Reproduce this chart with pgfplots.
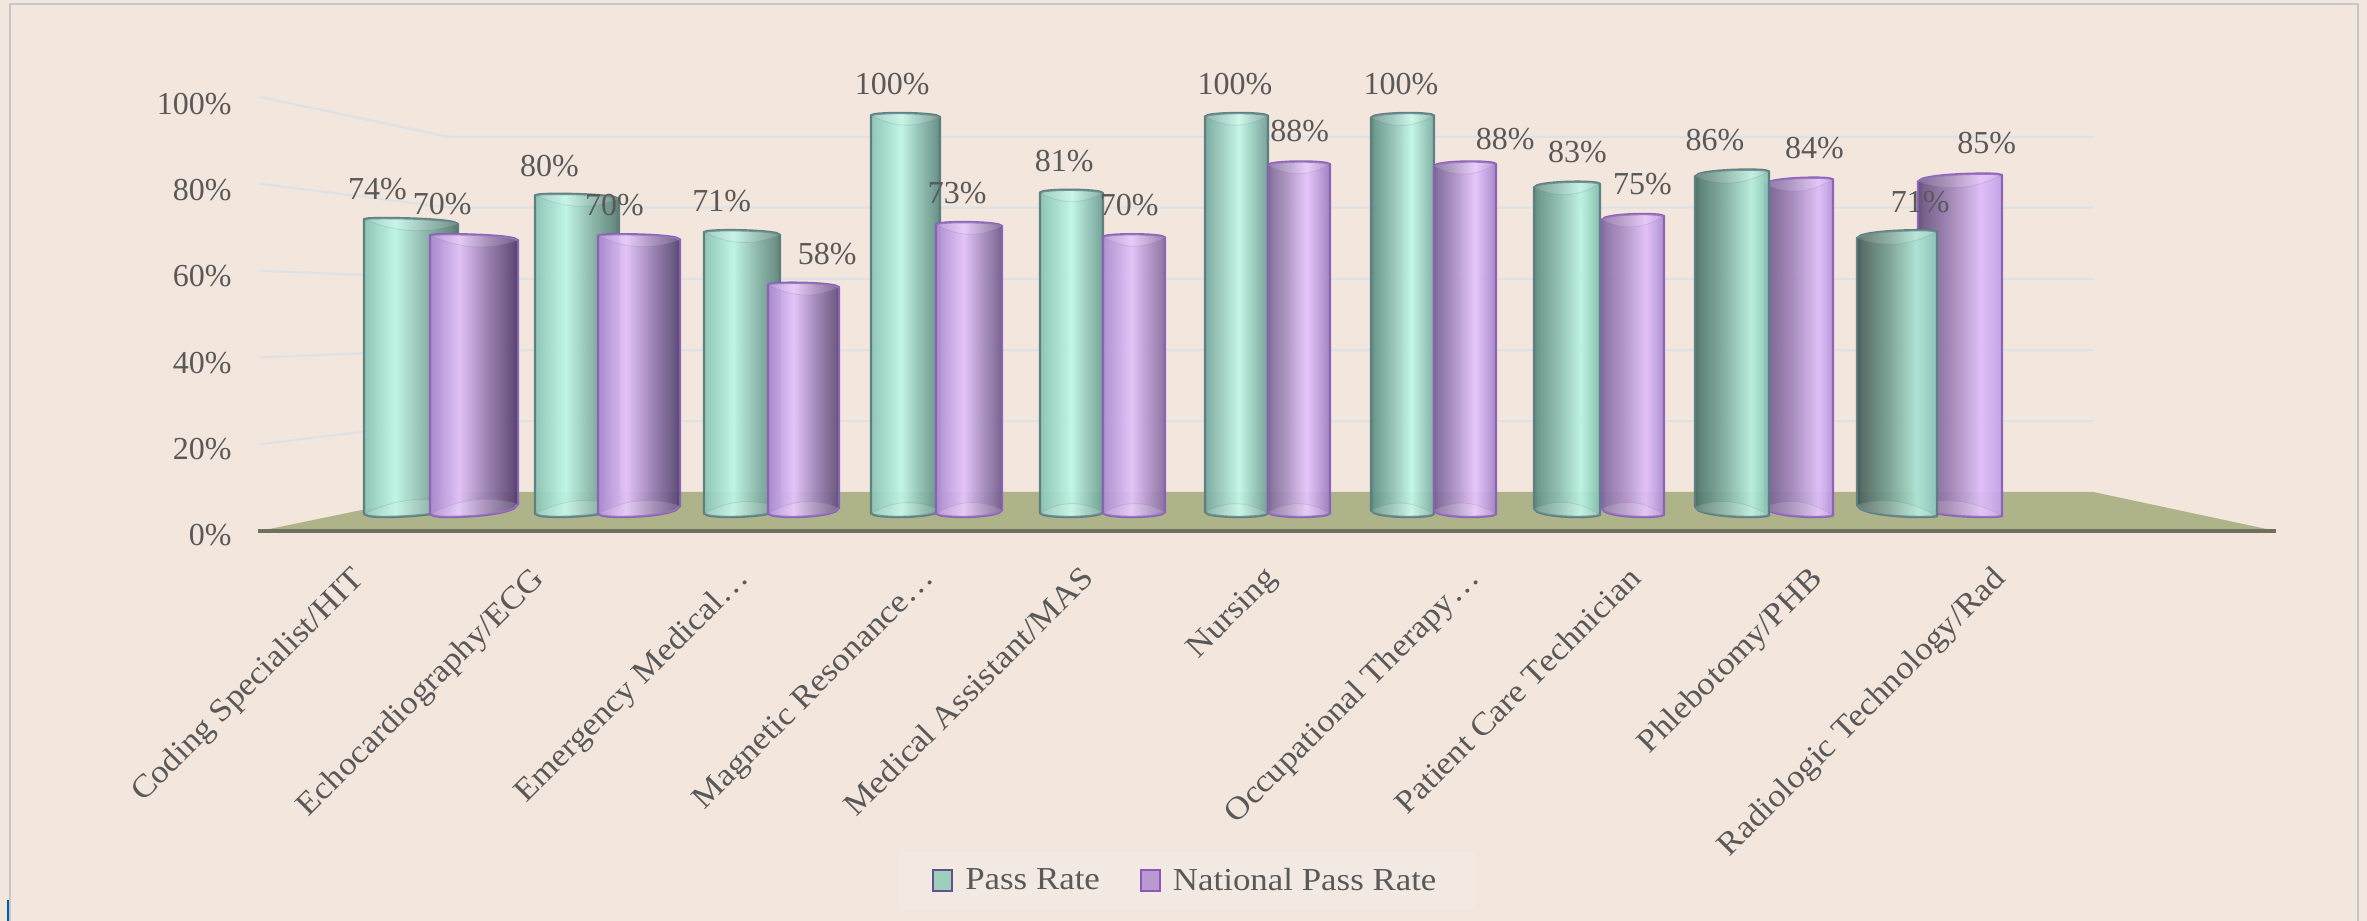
\documentclass[border=0pt]{standalone}
\usepackage{pgfplots}
\pgfplotsset{compat=1.18}
\usepackage{fontspec}
\setmainfont{Liberation Serif}
\newfontfamily\widefont[FakeStretch=1.09]{Liberation Serif}
\definecolor{bgc}{HTML}{F2E6DD}
\definecolor{txt}{HTML}{595959}
\definecolor{gridc}{HTML}{DCE2E6}
\definecolor{floorc}{HTML}{AEB38A}
\definecolor{linec}{HTML}{70705F}
\definecolor{tstroke}{HTML}{5A7D80}
\definecolor{pstroke}{HTML}{8A60B8}
\definecolor{legt}{HTML}{9CD0BD}
\definecolor{legtd}{HTML}{674E8C}
\definecolor{legp}{HTML}{B89AD0}
\definecolor{legpd}{HTML}{9055B8}
\definecolor{legbg}{HTML}{F2E9E3}
\newcommand\sh[5]{%
 \definecolor{#1-L}{HTML}{#2}\definecolor{#1-H}{HTML}{#3}\definecolor{#1-R}{HTML}{#4}%
 \pgfmathsetmacro\ma{(#5+25)/2}\pgfmathsetmacro\mb{(#5+75)/2}%
 \edef\tmpsh{\noexpand\pgfdeclarehorizontalshading{#1}{100bp}{color(0bp)=(#1-L); color(25bp)=(#1-L); color(28bp)=(#1-L!85!#1-H); color(\ma bp)=(#1-L!50!#1-H); color(#5bp)=(#1-H); color(\mb bp)=(#1-R!50!#1-H); color(72bp)=(#1-R!85!#1-H); color(75bp)=(#1-R); color(100bp)=(#1-R)}}%
 \tmpsh}
\sh{ta}{8CC4B6}{BEF6E6}{4F6F66}{41.5}
\sh{tb}{8CC4B6}{BEF6E6}{527469}{43}
\sh{tc}{8CC4B6}{BDF5E5}{587C72}{44}
\sh{td}{8CC4B6}{BFF6E6}{5A857A}{47}
\sh{te}{8AC2B3}{C0F7E7}{6C9B90}{50}
\sh{tf}{77A69C}{C3F8E8}{6F9C92}{52}
\sh{tg}{5C887F}{C2F8E8}{7DAEA2}{57}
\sh{th}{5A857B}{BBF3E2}{86BFB0}{60}
\sh{ti}{476A61}{B6EEDC}{88C2B3}{63}
\sh{tj}{40544E}{AFE7D5}{90CABC}{63}
\sh{pa}{AD8AD0}{E3C3FA}{46335E}{41}
\sh{pb}{AD8AD0}{E3C3FA}{4B3A66}{42}
\sh{pc}{AE8CD2}{E3C3FA}{594670}{43}
\sh{pd}{AD8CCF}{E3C3FA}{6B5884}{46}
\sh{pe}{AB8ECD}{E3C3FA}{846A9A}{48}
\sh{pf}{79658F}{E5C6FC}{9E7DBE}{56}
\sh{pg}{735E8E}{E5C6FC}{A685C7}{58}
\sh{ph}{7E6798}{E1C0F8}{AF8ED0}{60}
\sh{pi}{675280}{DEBDF7}{BB99DC}{64}
\sh{pj}{5E4972}{DEBDF7}{C4A2E6}{62}
\newcommand\lblfont{\fontsize{16}{19}\selectfont}
\newcommand\widelbl{\fontsize{16}{19}\widefont}
% one cylinder: x left, x right (canvas px), value (%), shading, stroke, group index
\newcommand\cyl[6]{%
 \pgfmathsetmacro\s{(#6-4.5)/4.5}%
 \pgfmathsetmacro\tz{0.5+0.3*\s}%
 \pgfmathsetmacro\tL{\s>0?3+5*\s:3+2*\s}%
 \pgfmathsetmacro\tR{\s<0?3-3*\s:3-1.5*\s}%
 \pgfmathsetmacro\bL{\s>0?4+8*\s:4+\s}%
 \pgfmathsetmacro\bR{\s<0?4-9*\s:4-3*\s}%
 \gdef\ptsB{}\gdef\ptsT{}\gdef\ptsC{}\gdef\ptsD{}%
 \pgfplotsforeachungrouped \i in {0,...,20}{%
  \pgfmathsetmacro\t{\i/20}%
  \pgfmathsetmacro\xx{#1+(#2-#1)*\t}%
  \pgfmathsetmacro\u{abs(\t-\tz)/(\t<\tz?\tz:1-\tz)}%
  \pgfmathsetmacro\w{1-sqrt(max(0,1-\u*\u))}%
  \pgfmathsetmacro\ot{(\t<\tz?\tL:\tR)*\w}%
  \pgfmathsetmacro\ob{(\t<\tz?\bL:\bR)*\w}%
  \pgfmathsetmacro\yb{\ob/4.04}%
  \pgfmathsetmacro\yt{#3-\ot/4.04}%
  \pgfmathsetmacro\yc{#3-((1-\t)*\tL+\t*\tR+4*9*\t*(1-\t))/4.04}%
  \pgfmathsetmacro\yd{((1-\t)*\bL+\t*\bR+4*9*\t*(1-\t))/4.04}%
  \xdef\ptsB{\ptsB (\xx,\yb)}%
  \xdef\ptsT{(\xx,\yt) \ptsT}%
  \xdef\ptsC{\ptsC (\xx,\yc)}%
  \xdef\ptsD{(\xx,\yd) \ptsD}%
 }%
 \edef\tmp{\noexpand\addplot[forget plot, mark=none, line width=1.2pt, shade, shading=#4, fill opacity=0.95, draw=#5, draw opacity=0.95, line join=round] coordinates {\ptsB\ptsT} -- cycle;%
  \noexpand\addplot[forget plot, mark=none, line width=0.4pt, fill=white, fill opacity=0.14, draw=#5, draw opacity=0.2] coordinates {\ptsC\ptsT} -- cycle;%
  \noexpand\addplot[forget plot, mark=none, line width=0.4pt, fill=white, fill opacity=0.14, draw=#5, draw opacity=0.2] coordinates {\ptsB\ptsD} -- cycle;}%
 \tmp
}
\newcommand\lbl[3]{\node[text=txt,font=\lblfont,inner sep=0pt] at (axis cs:{#1*1.5096},{(517-#2*1.5096)/4.04}) {#3};}
\begin{document}
\begin{tikzpicture}[x=1pt,y=1pt]
\path[use as bounding box] (0,1) rectangle (1183.5,461.5);
\fill[bgc] (0,0) rectangle (1183.5,461.5);
\draw[color=black!22,line width=1.4pt] (5,0) -- (5,459.5) -- (1179,459.5) -- (1179,0);
\draw[color=blue!50!cyan!70!black,line width=1pt] (4,0) -- (4,11.5);
% front-plane axis: floor, walls, y ticks, category labels
\begin{axis}[at={(130pt,196pt)},anchor=south west,scale only axis,width=1008pt,height=217pt,
 xmin=260,xmax=2276,ymin=0,ymax=100,clip=false,
 axis line style={draw=none},major tick length=0pt,
 ytick={0,19.86,39.72,59.58,79.44,99.3},yticklabels={0\%,20\%,40\%,60\%,80\%,100\%},
 yticklabel style={font=\lblfont,text=txt,anchor=east,inner sep=0pt,xshift=-14pt,yshift=-2pt},
 xtick={350,530,734,920,1079,1263,1465,1627,1808,1991},
 xticklabels={Coding Specialist/HIT,Echocardiography/ECG,Emergency Medical…,Magnetic Resonance…,Medical Assistant/MAS,Nursing,Occupational Therapy…,Patient Care Technician,Phlebotomy/PHB,Radiologic Technology/Rad},
 xticklabel style={font=\widelbl,text=txt,rotate=45,anchor=north east,inner sep=0pt},
 xticklabel shift=16.5pt,
]
\addplot[fill=floorc,draw=none,forget plot] coordinates {(260,0) (449,9.0) (2093,9.0) (2276,0)} -- cycle;
\addplot[gridc,line width=1pt,forget plot] coordinates {(260,100) (449,90.8) (2093,90.8)};
\addplot[gridc,line width=1pt,forget plot] coordinates {(260,80) (449,74.5) (2093,74.5)};
\addplot[gridc,line width=1pt,forget plot] coordinates {(260,60) (449,58.1) (2093,58.1)};
\addplot[gridc,line width=1pt,forget plot] coordinates {(260,40) (449,41.7) (2093,41.7)};
\addplot[gridc,line width=1pt,forget plot] coordinates {(260,20) (449,25.3) (2093,25.3)};
\addplot[color=linec,line width=2pt,forget plot] coordinates {(258,0) (2276,0)};
\end{axis}
% bar-plane axis: the cylinders
\begin{axis}[at={(130pt,203pt)},anchor=south west,scale only axis,width=1008pt,height=202pt,
 xmin=260,xmax=2276,ymin=0,ymax=100,clip=false,hide axis,
 legend columns=2,
 legend style={at={(0.4595,-0.90)},anchor=center,draw=none,fill=legbg,
  font=\widelbl,text=txt,inner xsep=17pt,inner ysep=6pt,
  /tikz/every odd column/.append style={column sep=4pt},
  /tikz/every even column/.append style={column sep=18pt}},
 legend image code/.code={\draw[#1,line width=1pt] (0pt,-5pt) rectangle (9.5pt,5.5pt);},
]
\addlegendimage{fill=legt,draw=legtd}
\addlegendentry{Pass Rate}
\addlegendimage{fill=legp,draw=legpd}
\addlegendentry{National Pass Rate}
% x left, x right, value, shading, stroke, group
\cyl{364}{458}{74}{ta}{tstroke}{0}
\cyl{430}{518}{70}{pa}{pstroke}{0}
\cyl{535}{619}{80}{tb}{tstroke}{1}
\cyl{598}{680}{70}{pb}{pstroke}{1}
\cyl{704}{780}{71}{tc}{tstroke}{2}
\cyl{768}{839}{58}{pc}{pstroke}{2}
\cyl{871}{940}{100}{td}{tstroke}{3}
\cyl{936}{1002}{73}{pd}{pstroke}{3}
\cyl{1040}{1103}{81}{te}{tstroke}{4}
\cyl{1103}{1165}{70}{pe}{pstroke}{4}
\cyl{1205}{1268}{100}{tf}{tstroke}{5}
\cyl{1268}{1330}{88}{pf}{pstroke}{5}
\cyl{1371}{1434}{100}{tg}{tstroke}{6}
\cyl{1434}{1496}{88}{pg}{pstroke}{6}
\cyl{1602}{1664}{75}{ph}{pstroke}{7}
\cyl{1534}{1600}{83}{th}{tstroke}{7}
\cyl{1765}{1833}{84}{pi}{pstroke}{8}
\cyl{1695}{1769}{86}{ti}{tstroke}{8}
\cyl{1918}{2002}{85}{pj}{pstroke}{9}
\cyl{1857}{1937}{71}{tj}{tstroke}{9}
\lbl{250}{125}{74\%}\lbl{293}{135}{70\%}
\lbl{364}{110}{80\%}\lbl{407}{136}{70\%}
\lbl{478}{133}{71\%}\lbl{548}{168}{58\%}
\lbl{591}{56}{100\%}\lbl{634}{128}{73\%}
\lbl{705}{107}{81\%}\lbl{748}{136}{70\%}
\lbl{818}{56}{100\%}\lbl{861}{87}{88\%}
\lbl{928}{56}{100\%}\lbl{997}{92}{88\%}
\lbl{1045}{101}{83\%}\lbl{1088}{122}{75\%}
\lbl{1136}{93}{86\%}\lbl{1202}{98}{84\%}
\lbl{1272}{134}{71\%}\lbl{1316}{95}{85\%}
\end{axis}
\end{tikzpicture}
\end{document}
